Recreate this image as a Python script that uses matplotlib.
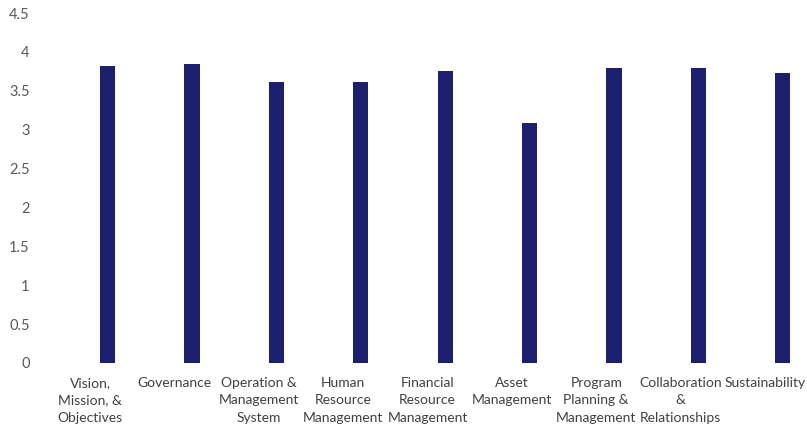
import matplotlib.pyplot as plt
import numpy as np

# Capacity assessment scores by area
categorias = [
    "Vision,\nMission, &\nObjectives",
    "Governance",
    "Operation &\nManagement\nSystem",
    "Human\nResource\nManagement",
    "Financial\nResource\nManagement",
    "Asset\nManagement",
    "Program\nPlanning &\nManagement",
    "Collaboration\n&\nRelationships",
    "Sustainability",
]
puntajes = [3.82, 3.85, 3.62, 3.62, 3.76, 3.09, 3.80, 3.80, 3.73]
marcas_y = [0, 0.5, 1, 1.5, 2, 2.5, 3, 3.5, 4, 4.5]

plt.rcParams['font.family'] = ['Lato', 'DejaVu Sans']

fig = plt.figure(figsize=(8.07, 4.33), dpi=100)
ax = fig.add_axes([0.0592, 0.1617, 0.941, 0.808])

x = np.arange(len(categorias))
# las barras van corridas a la derecha del centro de cada categoria
ax.bar(x + 0.21, puntajes, width=0.18, color='#1c1f6e')

ax.set_xlim(-0.5, len(categorias) - 0.5)
ax.set_ylim(0, 4.5)
ax.set_yticks(marcas_y)
ax.set_yticklabels([f"{v:g}" for v in marcas_y])
ax.set_xticks(x)
ax.set_xticklabels(categorias, linespacing=1.55)

for lado in ax.spines.values():
    lado.set_visible(False)
ax.tick_params(axis='y', length=0, pad=13, labelsize=10.5, labelcolor='#595959')
ax.tick_params(axis='x', length=0, pad=10, labelsize=10, labelcolor='#404040')

fig.savefig('out.png', dpi=100)
